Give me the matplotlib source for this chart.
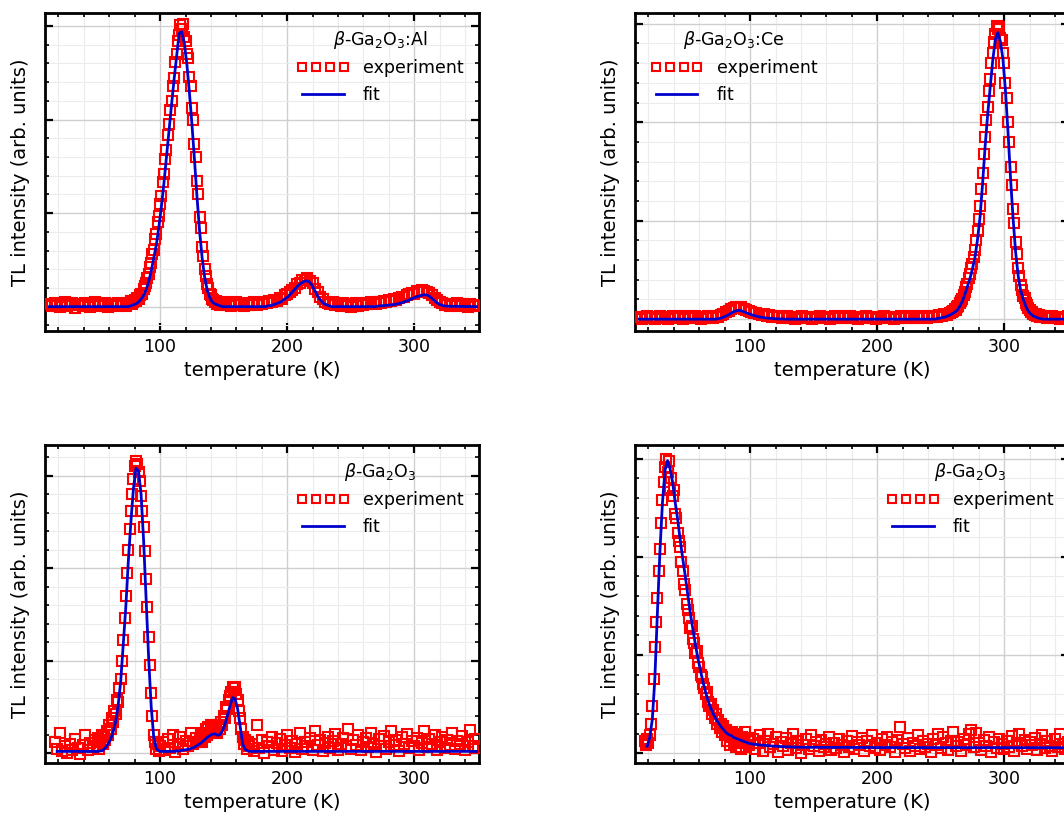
import numpy as np
import matplotlib
matplotlib.use("Agg")
import matplotlib.pyplot as plt
from matplotlib.ticker import MultipleLocator, NullFormatter

# ---- beta-Ga2O3:Al ----
temp_exp_al = np.r_[13:76:2, 76:151, 152:350:2]
exp_al = [
    0.03, 0.01, 0.04, 0.02, 0.00, 0.03, 0.05, 0.01, 0.02, 0.04,
    -0.01, 0.02, 0.03, 0.01, 0.04, 0.02, 0.00, 0.03, 0.05, 0.02,
    0.01, 0.03, 0.04, 0.00, 0.02, 0.03, 0.01, 0.04, 0.02, 0.03,
    0.01, 0.04,
    # 76..150 K
    0.04, 0.06, 0.03, 0.05, 0.07, 0.06, 0.09, 0.08, 0.12, 0.14,
    0.13, 0.19, 0.22, 0.25, 0.31, 0.35, 0.42, 0.47, 0.56, 0.61,
    0.72, 0.78, 0.90, 0.97, 1.10, 1.18, 1.33, 1.42, 1.58, 1.68,
    1.84, 1.95, 2.10, 2.20, 2.36, 2.45, 2.62, 2.70, 2.84, 2.90,
    3.01, 2.97, 3.02, 2.88, 2.84, 2.70, 2.66, 2.46, 2.36, 2.12,
    2.00, 1.74, 1.60, 1.34, 1.20, 0.96, 0.84, 0.64, 0.54, 0.40,
    0.33, 0.24, 0.20, 0.14, 0.12, 0.08, 0.07, 0.05, 0.06, 0.03,
    0.05, 0.02, 0.04, 0.03, 0.05,
    # 152..348 K
    0.02, 0.04, 0.01, 0.03, 0.05, 0.02, 0.03, 0.01, 0.04, 0.02,
    0.03, 0.05, 0.02, 0.04, 0.03, 0.05, 0.04, 0.06, 0.05, 0.07,
    0.06, 0.09, 0.08, 0.12, 0.13, 0.16, 0.18, 0.20, 0.24, 0.25,
    0.29, 0.28, 0.31, 0.27, 0.25, 0.19, 0.16, 0.10, 0.08, 0.05,
    0.04, 0.03, 0.05, 0.02, 0.03, 0.01, 0.04, 0.02, 0.03, 0.00,
    0.02, 0.04, 0.01, 0.03, 0.02, 0.04, 0.03, 0.05, 0.04, 0.03,
    0.05, 0.04, 0.06, 0.05, 0.07, 0.06, 0.08, 0.07, 0.09, 0.10,
    0.10, 0.12, 0.13, 0.15, 0.14, 0.17, 0.16, 0.18, 0.17, 0.16,
    0.15, 0.12, 0.09, 0.07, 0.05, 0.04, 0.02, 0.03, 0.01, 0.03,
    0.02, 0.04, 0.01, 0.03, 0.02, 0.00, 0.03, 0.02, 0.01,
]
temp_fit_al = np.r_[13, 75:150:2, 183:236:2, 269:326:2, 349]
fit_al = [
    0.0,
    0.0, 0.01, 0.02, 0.03, 0.05, 0.08, 0.12, 0.18, 0.27, 0.38,
    0.52, 0.66, 0.85, 1.07, 1.32, 1.60, 1.88, 2.16, 2.43, 2.68,
    2.92, 2.94, 2.82, 2.60, 2.30, 1.96, 1.58, 1.18, 0.82, 0.53,
    0.32, 0.18, 0.10, 0.05, 0.03, 0.02, 0.01, 0.0,
    0.0, 0.01, 0.01, 0.02, 0.03, 0.04, 0.05, 0.07, 0.09, 0.11,
    0.14, 0.17, 0.20, 0.23, 0.25, 0.27, 0.275, 0.27, 0.24, 0.19,
    0.14, 0.09, 0.06, 0.03, 0.02, 0.01, 0.0,
    0.0, 0.005, 0.008, 0.01, 0.012, 0.015, 0.018, 0.02, 0.025, 0.03,
    0.037, 0.045, 0.055, 0.065, 0.078, 0.09, 0.10, 0.11, 0.118, 0.125,
    0.127, 0.12, 0.10, 0.075, 0.05, 0.03, 0.018, 0.01, 0.005,
    0.0,
]

# ---- beta-Ga2O3:Ce ----
temp_exp_ce = np.r_[13:260:2, 260:331, 332:351:2]
exp_ce = [
    0.02, 0.00, 0.01, 0.03, 0.01, 0.02, 0.00, 0.02, 0.03, 0.01,
    0.02, 0.00, 0.01, 0.03, 0.02, 0.01, 0.02, 0.00, 0.03, 0.01,
    0.02, 0.01, 0.03, 0.02, 0.00, 0.02, 0.01, 0.03, 0.02, 0.01,
    0.03, 0.02, 0.04, 0.05, 0.07, 0.08, 0.10, 0.11, 0.12, 0.11,
    0.12, 0.10, 0.09, 0.08, 0.07, 0.06, 0.06, 0.05, 0.04, 0.05,
    0.03, 0.04, 0.02, 0.03, 0.02, 0.03, 0.01, 0.02, 0.03, 0.01,
    0.02, 0.00, 0.02, 0.01, 0.03, 0.02, 0.01, 0.02, 0.00, 0.02,
    0.01, 0.03, 0.02, 0.01, 0.02, 0.00, 0.02, 0.03, 0.01, 0.02,
    0.01, 0.03, 0.02, 0.03, 0.01, 0.02, 0.00, 0.02, 0.01, 0.03,
    0.02, 0.01, 0.02, 0.00, 0.02, 0.01, 0.03, 0.02, 0.01, 0.02,
    0.00, 0.02, 0.01, 0.03, 0.02, 0.01, 0.02, 0.03, 0.01, 0.02,
    0.01, 0.03, 0.02, 0.01, 0.03, 0.02, 0.03, 0.02, 0.04, 0.03,
    0.05, 0.04, 0.06, 0.07,
    # 260..330 K
    0.08, 0.10, 0.09, 0.12, 0.13, 0.16, 0.18, 0.20, 0.25, 0.28,
    0.33, 0.36, 0.42, 0.46, 0.52, 0.56, 0.63, 0.70, 0.80, 0.90,
    1.02, 1.15, 1.32, 1.48, 1.68, 1.85, 2.02, 2.16, 2.32, 2.44,
    2.60, 2.70, 2.82, 2.90, 2.98, 2.95, 2.97, 2.86, 2.84, 2.70,
    2.60, 2.40, 2.25, 2.00, 1.80, 1.55, 1.36, 1.12, 0.98, 0.78,
    0.66, 0.52, 0.44, 0.35, 0.30, 0.24, 0.21, 0.16, 0.14, 0.11,
    0.09, 0.07, 0.07, 0.05, 0.04, 0.05, 0.03, 0.04, 0.02, 0.03,
    0.02,
    # 332..350 K
    0.03, 0.01, 0.02, 0.03, 0.01, 0.02, 0.00, 0.02, 0.01, 0.03,
]
temp_fit_ce = np.r_[13, 73:130:2, 245:332:2, 349]
fit_ce = [
    0.0,
    0.0, 0.005, 0.01, 0.02, 0.03, 0.045, 0.06, 0.075, 0.085, 0.09,
    0.085, 0.075, 0.065, 0.055, 0.045, 0.037, 0.03, 0.024, 0.019, 0.015,
    0.012, 0.009, 0.007, 0.005, 0.004, 0.003, 0.002, 0.001, 0.0,
    0.0, 0.005, 0.01, 0.015, 0.02, 0.03, 0.04, 0.055, 0.07, 0.09,
    0.13, 0.18, 0.25, 0.33, 0.41, 0.51, 0.63, 0.81, 1.04, 1.38,
    1.76, 2.08, 2.36, 2.63, 2.84, 2.91, 2.82, 2.64, 2.32, 1.90,
    1.43, 1.02, 0.68, 0.44, 0.29, 0.20, 0.13, 0.08, 0.05, 0.03,
    0.02, 0.01, 0.005, 0.0,
    0.0,
]

# ---- beta-Ga2O3 (first sample) ----
temp_exp_ga1 = np.r_[17:50:2, 50:101, 102:131:2, 131:171, 172:351:2]
exp_ga1 = [
    0.12, 0.05, 0.22, 0.02, 0.08, 0.00, 0.10, 0.04, 0.15, 0.06,
    -0.01, 0.09, 0.20, 0.03, 0.11, 0.07, 0.14,
    # 50..100 K
    0.08, 0.16, 0.05, 0.12, 0.20, 0.10, 0.18, 0.14, 0.24, 0.20,
    0.30, 0.26, 0.38, 0.34, 0.46, 0.42, 0.58, 0.55, 0.70, 0.80,
    1.00, 1.22, 1.46, 1.70, 1.95, 2.20, 2.42, 2.62, 2.80, 2.96,
    3.10, 3.16, 3.12, 3.04, 2.94, 2.78, 2.62, 2.44, 2.18, 1.88,
    1.58, 1.26, 0.95, 0.65, 0.40, 0.20, 0.12, 0.05, 0.10, 0.02,
    0.08,
    # 102..130 K
    0.12, 0.03, 0.15, 0.06, 0.20, 0.01, 0.10, 0.18, 0.05, 0.13,
    0.08, 0.22, 0.10, 0.16, 0.12,
    # 131..170 K
    0.14, 0.20, 0.12, 0.22, 0.18, 0.26, 0.20, 0.28, 0.22, 0.30,
    0.25, 0.31, 0.24, 0.28, 0.22, 0.30, 0.26, 0.34, 0.30, 0.40,
    0.38, 0.50, 0.48, 0.58, 0.62, 0.66, 0.72, 0.70, 0.72, 0.64,
    0.58, 0.46, 0.38, 0.26, 0.18, 0.10, 0.14, 0.05, 0.12, 0.08,
    # 172..350 K
    0.10, 0.02, 0.30, 0.06, 0.14, 0.00, 0.12, 0.08, 0.18, 0.04,
    0.11, 0.15, 0.02, 0.09, 0.20, 0.06, 0.13, 0.01, 0.10, 0.22,
    0.05, 0.12, 0.08, 0.16, 0.03, 0.24, 0.09, 0.14, 0.02, 0.11,
    0.18, 0.06, 0.13, 0.21, 0.04, 0.10, 0.16, 0.08, 0.26, 0.05,
    0.14, 0.09, 0.20, 0.03, 0.12, 0.17, 0.07, 0.22, 0.10, 0.01,
    0.15, 0.08, 0.19, 0.05, 0.12, 0.24, 0.09, 0.14, 0.02, 0.18,
    0.10, 0.21, 0.06, 0.13, 0.08, 0.17, 0.03, 0.11, 0.24, 0.07,
    0.15, 0.10, 0.20, 0.04, 0.12, 0.18, 0.06, 0.14, 0.09, 0.22,
    0.05, 0.13, 0.10, 0.19, 0.03, 0.12, 0.25, 0.08, 0.15, 0.06,
]
temp_fit_ga1 = np.r_[19, 51:172:2, 349]
fit_ga1 = [
    0.02,
    0.02, 0.025, 0.03, 0.06, 0.10, 0.15, 0.23, 0.34, 0.52, 0.78,
    1.18, 1.58, 2.08, 2.50, 2.86, 3.08, 3.05, 2.80, 2.30, 1.66,
    1.02, 0.50, 0.17, 0.05, 0.025,
    0.02, 0.02, 0.02, 0.02, 0.02, 0.02, 0.025, 0.025, 0.03, 0.035,
    0.04, 0.045, 0.055,
    0.065, 0.08, 0.10, 0.12, 0.145, 0.17, 0.19, 0.205, 0.21, 0.195,
    0.20, 0.24, 0.31, 0.41, 0.51, 0.60, 0.59, 0.48, 0.29, 0.10,
    0.04, 0.025, 0.02,
    0.02,
]

# ---- beta-Ga2O3 (second sample) ----
temp_exp_ga2 = np.r_[17:101, 102:351:2]
exp_ga2 = [
    0.12, 0.08, 0.14, 0.10, 0.18, 0.30, 0.48, 0.76, 1.08, 1.34,
    1.58, 1.86, 2.08, 2.35, 2.58, 2.76, 2.92, 3.00, 2.86, 2.98,
    2.70, 2.80, 2.62, 2.68, 2.44, 2.40, 2.24, 2.16, 2.10, 1.95,
    1.86, 1.72, 1.66, 1.52, 1.46, 1.38, 1.28, 1.30, 1.16, 1.12,
    1.02, 1.04, 0.92, 0.88, 0.80, 0.78, 0.70, 0.66, 0.60, 0.62,
    0.52, 0.48, 0.50, 0.40, 0.44, 0.36, 0.40, 0.30, 0.34, 0.26,
    0.30, 0.22, 0.28, 0.18, 0.24, 0.12, 0.20, 0.08, 0.16, 0.22,
    0.10, 0.18, 0.06, 0.20, 0.12, 0.14, 0.04, 0.16, 0.10, 0.22,
    0.06, 0.12, 0.08, 0.15,
    # 102..350 K
    0.14, 0.04, 0.10, 0.18, 0.02, 0.12, 0.20, 0.06, 0.09, 0.16,
    0.01, 0.11, 0.07, 0.15, 0.03, 0.10, 0.19, 0.05, 0.12, 0.00,
    0.08, 0.14, 0.04, 0.18, 0.07, 0.11, 0.02, 0.13, 0.06, 0.09,
    0.16, 0.03, 0.10, 0.05, 0.14, 0.08, 0.01, 0.12, 0.06, 0.17,
    0.04, 0.11, 0.08, 0.15, 0.02, 0.12, 0.07, 0.18, 0.05, 0.10,
    0.03, 0.14, 0.08, 0.16, 0.06, 0.11, 0.01, 0.13, 0.27, 0.09,
    0.05, 0.15, 0.02, 0.10, 0.07, 0.18, 0.04, 0.12, 0.06, 0.09,
    0.01, 0.14, 0.08, 0.20, 0.05, 0.16, 0.10, 0.03, 0.12, 0.22,
    0.07, 0.11, 0.02, 0.14, 0.08, 0.19, 0.24, 0.06, 0.21, 0.10,
    0.03, 0.13, 0.07, 0.16, 0.01, 0.11, 0.05, 0.14, 0.09, 0.04,
    0.12, 0.06, 0.17, 0.02, 0.10, 0.20, 0.07, 0.13, 0.04, 0.11,
    0.08, 0.15, 0.03, 0.09, 0.18, 0.05, 0.12, 0.07, 0.02, 0.14,
    0.06, 0.19, 0.09, 0.04, 0.11,
]
temp_fit_ga2 = np.r_[19:141:2, 200, 349]
fit_ga2 = [
    0.07, 0.16, 0.34, 0.75, 1.42, 2.05, 2.55, 2.88, 2.98, 2.90,
    2.76, 2.56, 2.38, 2.17, 1.98, 1.80, 1.61, 1.42, 1.26, 1.10,
    0.96, 0.84, 0.72, 0.62, 0.53, 0.46, 0.40, 0.35, 0.31, 0.27,
    0.24, 0.21, 0.19, 0.18, 0.16, 0.15, 0.14, 0.13, 0.12, 0.11,
    0.10,
    0.095, 0.09, 0.088, 0.085, 0.082, 0.08, 0.078, 0.075, 0.073, 0.071,
    0.07, 0.068, 0.067, 0.066, 0.065, 0.064, 0.063, 0.062, 0.061, 0.06,
    0.057, 0.055,
]

titles = [r"$\beta$-Ga$_2$O$_3$:Al", r"$\beta$-Ga$_2$O$_3$:Ce",
          r"$\beta$-Ga$_2$O$_3$", r"$\beta$-Ga$_2$O$_3$"]

panels = [
    (temp_exp_al, exp_al, temp_fit_al, fit_al, (-0.26, 3.14), "upper right"),
    (temp_exp_ce, exp_ce, temp_fit_ce, fit_ce, (-0.12, 3.11), "upper left"),
    (temp_exp_ga1, exp_ga1, temp_fit_ga1, fit_ga1, (-0.105, 3.33), "upper right"),
    (temp_exp_ga2, exp_ga2, temp_fit_ga2, fit_ga2, (-0.10, 3.14), "upper right"),
]

# axes boxes in figure fraction (right column runs past the figure edge)
positions = [
    [0.0423, 0.5944, 0.4079, 0.3897],
    [0.5968, 0.5944, 0.4079, 0.3897],
    [0.0423, 0.0650, 0.4079, 0.3897],
    [0.5968, 0.0650, 0.4079, 0.3897],
]

fig = plt.figure(figsize=(10.64, 8.16), dpi=100)

for pos, title, (te, ye, tf, yf, ylim, loc) in zip(positions, titles, panels):
    ax = fig.add_axes(pos)
    ax.plot(te, ye, ls="none", marker="s", ms=7, mfc="none", mec="red",
            mew=1.5, label="experiment", zorder=3)
    ax.plot(tf, yf, color="#0000cd", lw=2, label="fit", zorder=4)

    ax.set_xlim(9.4, 351)
    ax.set_ylim(*ylim)
    ax.xaxis.set_major_locator(MultipleLocator(100))
    ax.xaxis.set_minor_locator(MultipleLocator(20))
    ax.yaxis.set_major_locator(MultipleLocator(1))
    ax.yaxis.set_minor_locator(MultipleLocator(0.2))
    ax.yaxis.set_major_formatter(NullFormatter())

    ax.tick_params(which="both", direction="in", top=True, right=True,
                   labelsize=12.5)
    ax.tick_params(which="major", length=6, width=1.6, pad=5)
    ax.tick_params(which="minor", length=3, width=1.2)
    ax.grid(which="major", color="#cfcfcf", lw=1.0)
    ax.grid(which="minor", color="#ececec", lw=0.8)
    ax.set_axisbelow(True)
    for s in ax.spines.values():
        s.set_linewidth(2)

    ax.set_xlabel("temperature (K)", fontsize=14)
    ax.set_ylabel("TL intensity (arb. units)", fontsize=14, labelpad=6)
    ax.legend(loc=loc, title=title, frameon=False, numpoints=4,
              fontsize=12.5, title_fontsize=12.5, handlelength=3,
              markerscale=0.85)

fig.savefig("out.png", dpi=100)
